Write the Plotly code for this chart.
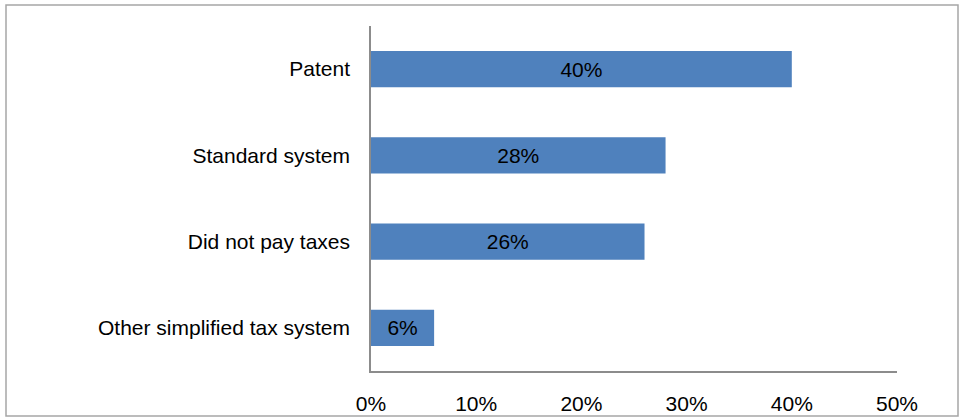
import plotly.graph_objects as go

# Tax regimes, listed top to bottom, with their shares
categories = ["Patent", "Standard system", "Did not pay taxes", "Other simplified tax system"]
shares = [0.40, 0.28, 0.26, 0.06]
tick_values = [0, 0.1, 0.2, 0.3, 0.4, 0.5]
tick_labels = ["0%", "10%", "20%", "30%", "40%", "50%"]

W, H = 960, 419
L, R, T, B = 371, 63, 26, 48
pw, ph = W - L - R, H - T - B
FONT = "Liberation Sans, Arial, sans-serif"

def px_to_paper_x(px):
    return (px - L) / pw

def px_to_paper_y(py):
    return (H - B - py) / ph

fig = go.Figure(
    go.Bar(
        x=shares,
        y=categories,
        orientation="h",
        marker=dict(color="#4F81BD", line=dict(width=0)),
        width=0.42,
        text=[f"{v * 100:.0f}%" for v in shares],
        textposition="inside",
        insidetextanchor="middle",
        textfont=dict(color="#000000", size=21, family=FONT),
        hoverinfo="skip",
    )
)

fig.update_layout(
    width=W,
    height=H,
    margin=dict(l=L, r=R, t=T, b=B, autoexpand=False),
    paper_bgcolor="white",
    plot_bgcolor="white",
    showlegend=False,
    uniformtext=dict(minsize=21, mode="show"),
    font=dict(family=FONT, size=21, color="#000000"),
    shapes=[
        # chart frame
        dict(
            type="rect", xref="paper", yref="paper",
            x0=px_to_paper_x(6), x1=px_to_paper_x(958),
            y0=px_to_paper_y(416), y1=px_to_paper_y(5),
            line=dict(color="#A6A6A6", width=1.5), fillcolor="rgba(0,0,0,0)",
            layer="below",
        ),
    ],
)

fig.update_xaxes(
    range=[0, 0.5],
    tickvals=tick_values,
    ticktext=tick_labels,
    tickfont=dict(size=21),
    showgrid=False,
    zeroline=False,
    showline=True,
    linecolor="#8C8C8C",
    linewidth=1.5,
    ticks="",
    ticklabelstandoff=13,
    automargin=False,
    fixedrange=True,
)

fig.update_yaxes(
    categoryorder="array",
    categoryarray=categories[::-1],
    tickfont=dict(size=21),
    showgrid=False,
    zeroline=False,
    showline=True,
    linecolor="#8C8C8C",
    linewidth=1.5,
    ticks="",
    ticklabelstandoff=15,
    automargin=False,
    fixedrange=True,
)

fig.write_html("out.html")
